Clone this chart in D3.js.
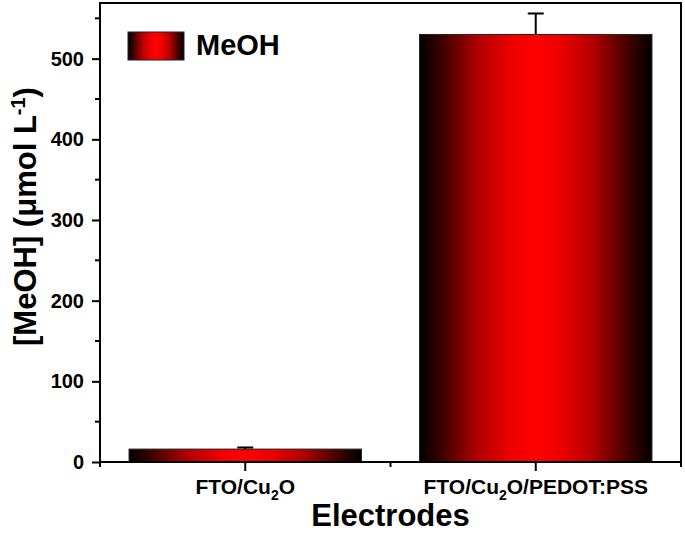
<!DOCTYPE html>
<html>
<head>
<meta charset="utf-8">
<script src="https://cdn.jsdelivr.net/npm/d3@7"></script>
<style>
  body { margin: 0; background: #fff; }
  svg { display: block; }
  text { font-family: "Liberation Sans", Arial, sans-serif; font-weight: bold; fill: #000; }
</style>
</head>
<body>
<div id="chart"></div>
<script>
// data
const categories = ["FTO/Cu2O", "FTO/Cu2O/PEDOT:PSS"];
const meohValues = [16, 530]; // umol/L
const meohErrors = [2, 26];
const yTicks = [0, 100, 200, 300, 400, 500];
const yMinorTicks = [50, 150, 250, 350, 450, 550];

const width = 685, height = 534;
const margin = { left: 100, right: 4, top: 3, bottom: 72 };

const svg = d3.select("#chart").append("svg")
  .attr("width", width)
  .attr("height", height);

// horizontal black -> red -> black gradient used by the bars and legend
const defs = svg.append("defs");
const grad = defs.append("linearGradient")
  .attr("id", "barGrad")
  .attr("x1", "0%").attr("x2", "100%")
  .attr("y1", "0%").attr("y2", "0%");
[[0, "#000000"], [0.1, "#400000"], [0.25, "#b00000"], [0.4, "#f00000"], [0.5, "#ff0000"],
 [0.6, "#f00000"], [0.75, "#b00000"], [0.9, "#400000"], [1, "#000000"]].forEach(([o, c]) => {
  grad.append("stop").attr("offset", o).attr("stop-color", c);
});

const x = d3.scaleBand()
  .domain(categories)
  .range([margin.left, width - margin.right])
  .paddingInner(0.2)
  .paddingOuter(0.1);

const y = d3.scaleLinear()
  .domain([0, 569])
  .range([height - margin.bottom, margin.top]);

const x0 = margin.left, x1 = width - margin.right;
const y0 = y(0), y1 = margin.top;

// bars
svg.append("g")
  .selectAll("rect")
  .data(categories)
  .join("rect")
  .attr("x", (d) => x(d))
  .attr("width", x.bandwidth())
  .attr("y", (d, i) => y(meohValues[i]))
  .attr("height", (d, i) => y(0) - y(meohValues[i]))
  .attr("fill", "url(#barGrad)")
  .attr("stroke", "#222")
  .attr("stroke-width", 1);

// error bars (upper half only)
const err = svg.append("g").attr("stroke", "#000").attr("stroke-width", 2);
categories.forEach((c, i) => {
  const cx = x(c) + x.bandwidth() / 2;
  err.append("line")
    .attr("x1", cx).attr("x2", cx)
    .attr("y1", y(meohValues[i])).attr("y2", y(meohValues[i] + meohErrors[i]));
  err.append("line")
    .attr("x1", cx - 8).attr("x2", cx + 8)
    .attr("y1", y(meohValues[i] + meohErrors[i])).attr("y2", y(meohValues[i] + meohErrors[i]));
});

// frame
svg.append("rect")
  .attr("x", x0).attr("y", y1)
  .attr("width", x1 - x0).attr("height", y0 - y1)
  .attr("fill", "none")
  .attr("stroke", "#000")
  .attr("stroke-width", 2);

// y axis
const yAxis = svg.append("g").attr("transform", `translate(${x0},0)`);
yAxis.call(d3.axisLeft(y).tickValues(yTicks).tickSize(8).tickPadding(8))
  .call((g) => g.select(".domain").remove());
yAxis.selectAll(".tick line").attr("stroke-width", 2);
yAxis.selectAll(".tick text")
  .style("font-size", "20px")
  .style("font-family", "'Liberation Sans', Arial, sans-serif")
  .style("font-weight", "bold")
  .attr("fill", "#000");
yAxis.append("g")
  .selectAll("line")
  .data(yMinorTicks)
  .join("line")
  .attr("x1", -5).attr("x2", 0)
  .attr("y1", (d) => y(d)).attr("y2", (d) => y(d))
  .attr("stroke", "#000")
  .attr("stroke-width", 2);

// x axis: major ticks at bar centres, minor ticks between
const xAxis = svg.append("g").attr("transform", `translate(0,${y0})`);
xAxis.selectAll(".major")
  .data(categories)
  .join("line")
  .attr("x1", (d) => x(d) + x.bandwidth() / 2)
  .attr("x2", (d) => x(d) + x.bandwidth() / 2)
  .attr("y1", 0).attr("y2", 9)
  .attr("stroke", "#000").attr("stroke-width", 2);
const step = x.step();
const minorX = [x0, x(categories[0]) + x.bandwidth() / 2 + step / 2, x1];
xAxis.selectAll(".minor")
  .data(minorX)
  .join("line")
  .attr("x1", (d) => d).attr("x2", (d) => d)
  .attr("y1", 0).attr("y2", 5)
  .attr("stroke", "#000").attr("stroke-width", 2);

// tick labels, with the "2" in Cu2O as a subscript
const labels = xAxis.selectAll(".lab")
  .data(categories)
  .join("text")
  .attr("x", (d) => x(d) + x.bandwidth() / 2)
  .attr("y", 32)
  .attr("text-anchor", "middle")
  .style("font-size", "21px");
labels.each(function (d) {
  const t = d3.select(this);
  const parts = d.split("Cu2");
  t.append("tspan").text(parts[0] + "Cu");
  t.append("tspan").attr("dy", 6).style("font-size", "14px").text("2");
  t.append("tspan").attr("dy", -6).text(parts[1]);
});

// axis titles
svg.append("text")
  .attr("x", (x0 + x1) / 2)
  .attr("y", 526)
  .attr("text-anchor", "middle")
  .style("font-size", "31px")
  .text("Electrodes");

const yTitle = svg.append("text")
  .attr("transform", `translate(36,${(y0 + y1) / 2 - 16}) rotate(-90)`)
  .attr("text-anchor", "middle")
  .style("font-size", "31px");
yTitle.append("tspan").text("[MeOH] (\u03bcmol L");
yTitle.append("tspan").attr("dy", -11).style("font-size", "20px").text("-1");
yTitle.append("tspan").attr("dy", 11).text(")");

// legend
svg.append("rect")
  .attr("x", 128).attr("y", 32)
  .attr("width", 56).attr("height", 28)
  .attr("fill", "url(#barGrad)")
  .attr("stroke", "#222")
  .attr("stroke-width", 1);
svg.append("text")
  .attr("x", 196)
  .attr("y", 55)
  .style("font-size", "29px")
  .text("MeOH");
</script>
</body>
</html>
